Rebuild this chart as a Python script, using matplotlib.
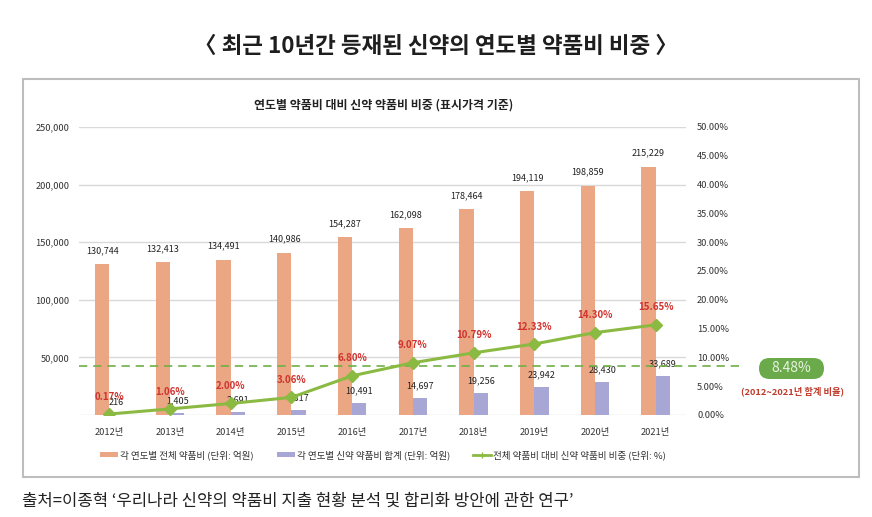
import matplotlib
matplotlib.use("Agg")
import matplotlib.pyplot as plt
from matplotlib.patches import Patch, FancyBboxPatch, Rectangle
from matplotlib.lines import Line2D
import numpy as np

plt.rcParams['font.family'] = ['Noto Sans CJK KR', 'DejaVu Sans']

years = ['2012년', '2013년', '2014년', '2015년', '2016년', '2017년', '2018년', '2019년', '2020년', '2021년']
total_cost = [130744, 132413, 134491, 140986, 154287, 162098, 178464, 194119, 198859, 215229]
new_cost = [216, 1405, 2691, 4317, 10491, 14697, 19256, 23942, 28430, 33689]
ratio = [0.17, 1.06, 2.00, 3.06, 6.80, 9.07, 10.79, 12.33, 14.30, 15.65]
overall_ratio = 8.48
left_ticks = [0, 50000, 100000, 150000, 200000, 250000]
right_ticks = [0, 5, 10, 15, 20, 25, 30, 35, 40, 45, 50]

title = '〈 최근 10년간 등재된 신약의 연도별 약품비 비중 〉'
chart_title = '연도별 약품비 대비 신약 약품비 비중 (표시가격 기준)'
legend_labels = ['각 연도별 전체 약품비 (단위: 억원)', '각 연도별 신약 약품비 합계 (단위: 억원)',
                 '전체 약품비 대비 신약 약품비 비중 (단위: %)']
pill_text = '8.48%'
pill_sub = '(2012~2021년 합계 비율)'
source = "출처=이종혁 ‘우리나라 신약의 약품비 지출 현황 분석 및 합리화 방안에 관한 연구’"

W, H = 872, 517
fig = plt.figure(figsize=(W / 100, H / 100), dpi=100)
fig.patch.set_facecolor('white')

def fx(px):
    return px / W

def fy(py):
    return 1 - py / H

# outer box
fig.patches.append(Rectangle((fx(23), fy(477)), fx(859) - fx(23), fy(79) - fy(477),
                             transform=fig.transFigure, fill=False, edgecolor='#BDBDBD', lw=1.5))

ax = fig.add_axes([fx(79), fy(415), fx(686) - fx(79), fy(127) - fy(415)])
ax2 = ax.twinx()

orange = '#EBA683'
purple = '#A7A6D4'
green = '#8BBA42'
red = '#D0332F'

x = np.arange(len(years))
bw = 0.235
ax.bar(x - bw / 2, total_cost, bw, color=orange, zorder=3)
ax.bar(x + bw / 2, new_cost, bw, color=purple, zorder=3)

ax.set_xlim(-0.5, len(years) - 0.5)
ax.set_ylim(0, 250000)
ax.set_yticks(left_ticks)
ax.set_yticklabels(['' if v == 0 else f'{v:,}' for v in left_ticks])
ax.grid(axis='y', color='#D9D9D9', lw=1, zorder=0)
ax.set_axisbelow(True)
for s in ax.spines.values():
    s.set_visible(False)
for s in ax2.spines.values():
    s.set_visible(False)
ax.tick_params(axis='both', length=0, labelsize=6.7, colors='#333333')
ax.tick_params(axis='y', pad=7)
ax.tick_params(axis='x', pad=9)
ax.set_xticks(x)
ax.set_xticklabels(years)

for i, v in enumerate(total_cost):
    ax.annotate(f'{v:,}', (x[i] - bw / 2, v), xytext=(0, 10), textcoords='offset points',
                ha='center', va='center', fontsize=6.5, color='#222222', zorder=5)
for i, v in enumerate(new_cost):
    ax.annotate(f'{v:,}', (x[i] + bw / 2, v), xytext=(0, 9), textcoords='offset points',
                ha='center', va='center', fontsize=6.5, color='#222222', zorder=5)

ax2.set_ylim(0, 50)
ax2.set_yticks(right_ticks)
ax2.set_yticklabels([f'{v:.2f}%' for v in right_ticks])
ax2.tick_params(axis='y', length=0, labelsize=6.7, colors='#333333', pad=8)

ax2.plot(x, ratio, color=green, lw=2.2, marker='D', markersize=6, zorder=6)
for i, v in enumerate(ratio):
    ax2.annotate(f'{v:.2f}%', (x[i], v), xytext=(0, 12.5), textcoords='offset points',
                 ha='center', va='center', fontsize=7, color=red, fontweight='bold', zorder=7)

ax2.axhline(overall_ratio, xmin=0, xmax=(743 - 79) / (686 - 79), color='#6FB043', lw=1.2,
            ls=(0, (5, 3.5)), clip_on=False, zorder=4)

# pill label
pill = FancyBboxPatch((fx(759), fy(379)), fx(824) - fx(759), fy(358) - fy(379),
                      boxstyle='round,pad=0,rounding_size=0.012', transform=fig.transFigure,
                      facecolor='#6AAA4B', edgecolor='none', mutation_aspect=W / H)
fig.patches.append(pill)
fig.text(fx(791), fy(368.5), pill_text, ha='center', va='center', fontsize=10, color='#E8F2DF')
fig.text(fx(792), fy(391), pill_sub, ha='center', va='center', fontsize=6.7, color='#C0392B',
         fontweight='bold')

fig.text(fx(436), fy(46), title, ha='center', va='center', fontsize=16.2, fontweight='bold',
         color='#1E1E1E')
fig.text(fx(384), fy(105), chart_title, ha='center', va='center', fontsize=8.6,
         fontweight='bold', color='#222222')

handles = [Patch(facecolor=orange, edgecolor='none'),
           Patch(facecolor=purple, edgecolor='none'),
           Line2D([0], [0], color=green, lw=2, marker='+', markersize=4)]
fig.legend(handles, legend_labels, loc='center', bbox_to_anchor=(fx(383), fy(455)),
           ncol=3, frameon=False, fontsize=6.9, handlelength=1.9, handleheight=0.5,
           handletextpad=0.2, columnspacing=2.4, labelcolor='#333333')

fig.text(fx(22), fy(501), source, ha='left', va='center', fontsize=12, color='#222222')

fig.savefig('out.png', dpi=100, facecolor='white')
